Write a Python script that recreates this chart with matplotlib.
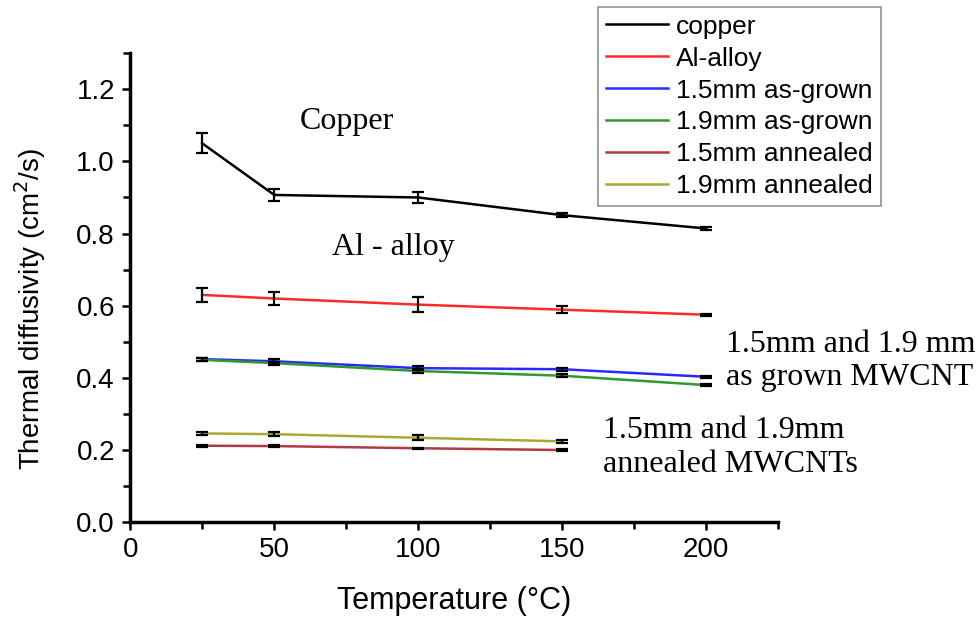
import numpy as np
import matplotlib.pyplot as plt
from matplotlib.ticker import MultipleLocator

plt.rcParams['font.family'] = ['Liberation Sans', 'DejaVu Sans']

temps = [25, 50, 100, 150, 200]
temps_annealed = [25, 50, 100, 150]

copper = [1.05, 0.907, 0.90, 0.851, 0.814]
copper_err = [0.028, 0.016, 0.016, 0.006, 0.003]
al_alloy = [0.630, 0.620, 0.603, 0.589, 0.575]
al_alloy_err = [0.020, 0.017, 0.020, 0.010, 0.003]
asgrown_15 = [0.452, 0.446, 0.427, 0.424, 0.403]
asgrown_15_err = [0.004, 0.005, 0.006, 0.004, 0.002]
asgrown_19 = [0.450, 0.441, 0.419, 0.406, 0.380]
asgrown_19_err = [0.004, 0.004, 0.005, 0.004, 0.002]
annealed_15 = [0.212, 0.211, 0.205, 0.200]
annealed_15_err = [0.003, 0.002, 0.002, 0.003]
annealed_19 = [0.246, 0.244, 0.234, 0.224]
annealed_19_err = [0.003, 0.005, 0.007, 0.004]

labels = ['copper', 'Al-alloy', '1.5mm as-grown', '1.9mm as-grown',
          '1.5mm annealed', '1.9mm annealed']
colors = ['black', '#ff2a2a', '#2a2aff', '#2e9a2e', '#b03a48', '#a8a832']

fig = plt.figure(figsize=(9.79, 6.18), dpi=100)
ax = fig.add_axes([0.133, 0.155, 0.662, 0.759])

series = [
    (temps, copper, copper_err),
    (temps, al_alloy, al_alloy_err),
    (temps, asgrown_15, asgrown_15_err),
    (temps, asgrown_19, asgrown_19_err),
    (temps_annealed, annealed_15, annealed_15_err),
    (temps_annealed, annealed_19, annealed_19_err),
]
handles = []
for (xs, ys, es), lab, c in zip(series, labels, colors):
    ax.errorbar(xs, ys, yerr=es, fmt='none', ecolor='black', elinewidth=1.6,
                capsize=4, capthick=1.6, zorder=3)
    h, = ax.plot(xs, ys, color=c, lw=1.8, label=lab, zorder=2)
    handles.append(h)

ax.set_xlim(0, 225)
ax.set_ylim(0, 1.3)
ax.xaxis.set_major_locator(MultipleLocator(50))
ax.xaxis.set_minor_locator(MultipleLocator(25))
ax.yaxis.set_major_locator(MultipleLocator(0.2))
ax.yaxis.set_minor_locator(MultipleLocator(0.1))
ax.yaxis.set_major_formatter(plt.FuncFormatter(lambda v, p: f'{v:.1f}'))

for s in ['top', 'right']:
    ax.spines[s].set_visible(False)
for s in ['left', 'bottom']:
    ax.spines[s].set_linewidth(2.5)
ax.tick_params(which='major', direction='out', length=6, width=1.8,
               labelsize=20, pad=5)
ax.tick_params(which='minor', direction='out', length=5, width=1.8)

ax.set_xlabel('Temperature (°C)', fontsize=22, labelpad=16)
ax.set_ylabel('Thermal diffusivity (cm$^2$/s)', fontsize=20)
ax.yaxis.set_label_coords(-0.127, 0.454)

serif = ['Liberation Serif', 'DejaVu Serif']
ax.text(59, 1.11, 'Copper', family=serif, fontsize=23, va='center')
ax.text(70, 0.76, 'Al - alloy', family=serif, fontsize=23, va='center')
ax.text(207, 0.447, '1.5mm and 1.9 mm\nas grown MWCNT', family=serif,
        fontsize=23, va='center', clip_on=False, linespacing=1.2)
ax.text(164, 0.207, '1.5mm and 1.9mm\nannealed MWCNTs', family=serif,
        fontsize=23, va='center', clip_on=False, linespacing=1.2)

leg = fig.legend(handles=handles, loc='upper left', bbox_to_anchor=(0.611, 0.989),
                 fontsize=19, frameon=True, fancybox=False, borderpad=0.3,
                 handlelength=2.35, handletextpad=0.3, labelspacing=0.3,
                 borderaxespad=0)
leg.get_frame().set_edgecolor('#777777')
leg.get_frame().set_linewidth(1.2)

fig.savefig('out.png', dpi=100)
